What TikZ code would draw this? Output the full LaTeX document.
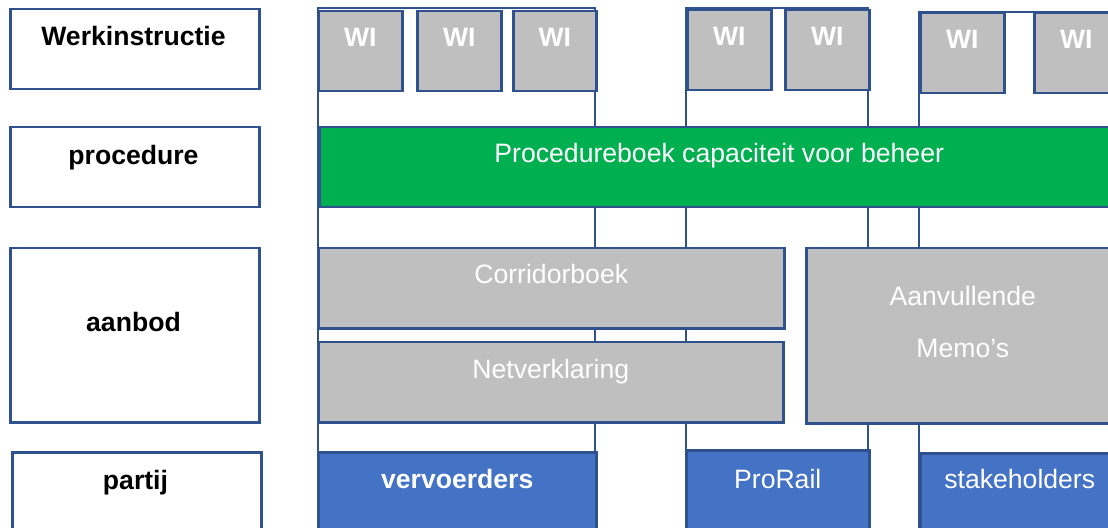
\documentclass[tikz,border=0pt]{standalone}
\usepackage{fontspec}
\setmainfont{Liberation Sans}
\definecolor{rand}{HTML}{2F528F}
\definecolor{grijs}{HTML}{BFBFBF}
\definecolor{groen}{HTML}{00B050}
\definecolor{blauw}{HTML}{4472C4}
\begin{document}
\begin{tikzpicture}[x=1bp, y=-1bp, line width=2.5bp,
    vak/.style={draw=rand, anchor=north west, inner sep=0pt},
    kop/.style={vak, fill=white, minimum width=249bp, minimum height=80bp},
    wi/.style={vak, fill=grijs, minimum width=84bp, minimum height=80bp},
    lbl/.style={anchor=base, inner sep=0pt, font=\fontsize{26.7}{31}\selectfont\bfseries},
    wit/.style={anchor=base, inner sep=0pt, text=white, font=\fontsize{26.7}{31}\selectfont},
    witvet/.style={wit, font=\fontsize{26.7}{31}\selectfont\bfseries}]
        \useasboundingbox (0,0) rectangle (1108,528);
        \clip (0,0) rectangle (1108,528);

        % kolommen
        \draw[rand] (318,8) rectangle (595,560);
        \draw[rand] (686,8) rectangle (868,560);
        \draw[rand] (919,12) rectangle (1118,560);

        % labels links
        \node[kop] (werk) at (9,8) {};
        \node[kop] (proc) at (9,126) {};
        \node[kop, minimum height=174bp] (aanb) at (9,247) {};
        \node[kop, minimum height=100bp] (partij) at (11,451) {};
        \node[lbl] (werkT) at (133.5,46) {Werkinstructie};
        \node[lbl] (procT) at (133.5,165) {procedure};
        \node[lbl] (aanbT) at (133.5,332) {aanbod};
        \node[lbl] (partijT) at (135.5,489) {partij};

        % werkinstructies
        \node[wi] (wi1) at (317,10) {};
        \node[wi] (wi2) at (416,10) {};
        \node[wi, minimum width=83bp] (wi3) at (512,10) {};
        \node[wi] (wi4) at (686,9) {};
        \node[wi] (wi5) at (784,9) {};
        \node[wi] (wi6) at (919,12) {};
        \node[wi] (wi7) at (1033,12) {};
        \node[witvet] (wi1T) at (wi1.center |- 0,47) {WI};
        \node[witvet] (wi2T) at (wi2.center |- 0,47) {WI};
        \node[witvet] (wi3T) at (wi3.center |- 0,47) {WI};
        \node[witvet] (wi4T) at (wi4.center |- 0,46) {WI};
        \node[witvet] (wi5T) at (wi5.center |- 0,46) {WI};
        \node[witvet] (wi6T) at (wi6.center |- 0,49) {WI};
        \node[witvet] (wi7T) at (wi7.center |- 0,49) {WI};

        % procedure
        \node[vak, fill=groen, minimum width=800bp, minimum height=80bp] (boek) at (318,126) {};
        \node[wit] (boekT) at (boek.center |- 0,163) {Procedureboek capaciteit voor beheer};

        % aanbod
        \node[vak, fill=grijs, minimum width=466bp, minimum height=80bp] (corr) at (317,247) {};
        \node[vak, fill=grijs, minimum width=465bp, minimum height=80bp] (netv) at (317,341) {};
        \node[vak, fill=grijs, minimum width=313bp, minimum height=175bp] (memo) at (805,247) {};
        \node[wit] (corrT) at (corr.center |- 0,284) {Corridorboek};
        \node[wit] (netvT) at (netv.center |- 0,379) {Netverklaring};
        \node[wit] (memoT1) at (memo.center |- 0,306) {Aanvullende};
        \node[wit] (memoT2) at (memo.center |- 0,358) {Memo’s};

        % partijen
        \node[vak, fill=blauw, minimum width=278bp, minimum height=100bp] (verv) at (317,451) {};
        \node[vak, fill=blauw, minimum width=183bp, minimum height=100bp] (prorail) at (685,449) {};
        \node[vak, fill=blauw, minimum width=199bp, minimum height=100bp] (stake) at (919,452) {};
        \node[witvet] (vervT) at (verv.center |- 0,488) {vervoerders};
        \node[wit] (prorailT) at (prorail.center |- 0,488) {ProRail};
        \node[wit] (stakeT) at (stake.center |- 0,488) {stakeholders};
\end{tikzpicture}
\end{document}
